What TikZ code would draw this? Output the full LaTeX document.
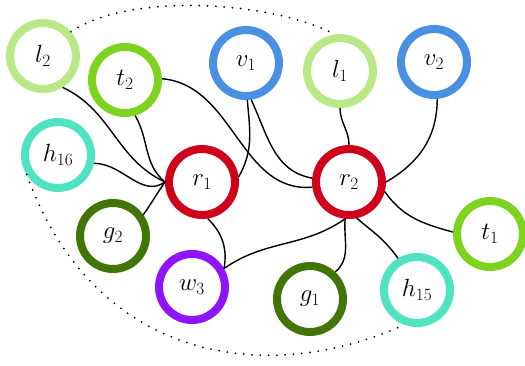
\documentclass[tikz,border=0pt]{standalone}
\usetikzlibrary{calc}
\definecolor{cLgreen}{HTML}{B8E986}
\definecolor{cGreen}{HTML}{7ED321}
\definecolor{cBlue}{HTML}{4A90E2}
\definecolor{cTurq}{HTML}{50E3C2}
\definecolor{cDgreen}{HTML}{417505}
\definecolor{cPurple}{HTML}{9013FE}
\definecolor{cRed}{HTML}{D0021B}
\begin{document}
\begin{tikzpicture}[x=1pt,y=1pt,
  ring/.style={circle,draw=#1,line width=8pt,fill=white,minimum size=66pt,inner sep=0pt,
    font=\fontsize{23}{27}\selectfont},
  link/.style={line width=1.4pt,black},
  dotline/.style={line width=2pt,line cap=round,dash pattern=on 0pt off 8.3pt}]
\useasboundingbox (0,0) rectangle (525,-365);
\node[ring=cLgreen] (l2) at (43,-56) {$l_2$};
\node[ring=cGreen] (t2) at (125,-80) {$t_2$};
\node[ring=cBlue] (v1) at (246,-63) {$v_1$};
\node[ring=cLgreen] (l1) at (340,-71) {$l_1$};
\node[ring=cBlue] (v2) at (434,-62) {$v_2$};
\node[ring=cTurq] (h16) at (58,-155) {$h_{16}$};
\node[ring=cRed] (r1) at (202,-182) {$r_1$};
\node[ring=cRed] (r2) at (349,-182) {$r_2$};
\node[ring=cDgreen] (g2) at (113,-236) {$g_2$};
\node[ring=cPurple] (w3) at (192,-287) {$w_3$};
\node[ring=cDgreen] (g1) at (310,-299) {$g_1$};
\node[ring=cTurq] (h15) at (417,-290) {$h_{15}$};
\node[ring=cGreen] (t1) at (490,-234) {$t_1$};
% edges to r1
\draw[link] (l2.-58) to[out=-25,in=155] (r1.west);
\draw[link] (t2.-74) to[out=-60,in=140] (r1.west);
\draw[link] (h16.-13) to[out=0,in=215] (r1.west);
\draw[link] (g2.35) to[out=55,in=235] (r1.west);
\draw[link] (v1.-88) to[out=-85,in=60] (r1.8);
\draw[link] (r1.-81) to[out=-45,in=80] (w3.30);
% edges to r2
\draw[link] (t2.2) to[out=-5,in=185] (r2.188);
\draw[link] (v1.-82) to[out=-65,in=170] (r2.174);
\draw[link] (l1.-90) to[out=-90,in=90] (r2.90);
\draw[link] (r2.0) to[out=30,in=-90] (v2.-85);
\draw[link] (r2.-15) to[out=-55,in=165] (t1.177);
\draw[link] (r2.-78) to[out=-40,in=125] (h15.121);
\draw[link] (r2.-96) to[out=-95,in=40] (g1.47);
\draw[link] (r2.-96) to[out=215,in=35] (w3.30);
% dotted arcs
\draw[dotline] (l2.41) .. controls +(59,40) and +(-62,33) .. (l1.98);
\draw[dotline] (h16.212) .. controls +(68,-188) and +(-137,-62) .. (h15.250);
\end{tikzpicture}
\end{document}
